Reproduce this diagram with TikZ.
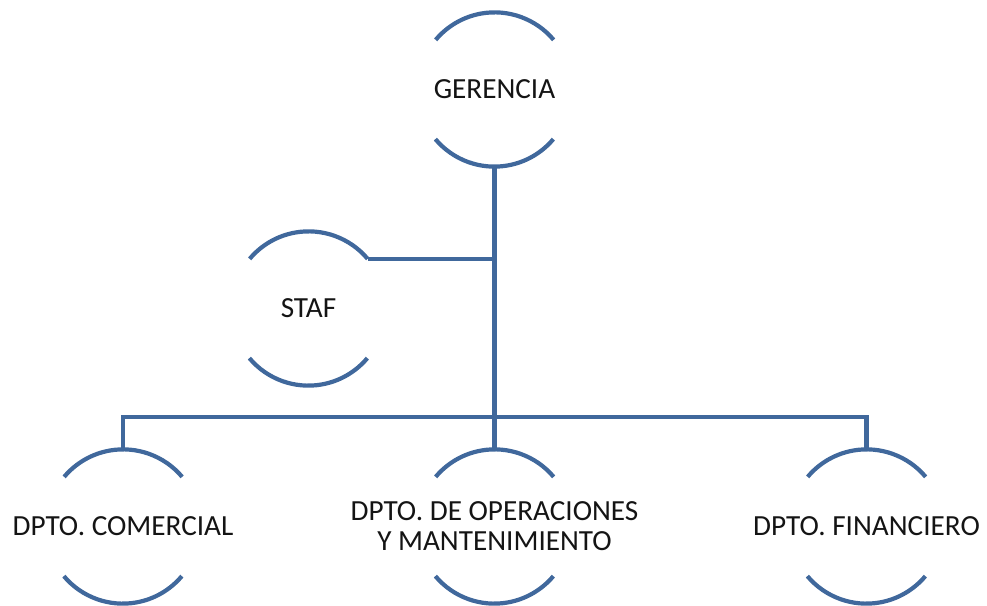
\documentclass[tikz,border=0pt]{standalone}
\usepackage{fontspec}
\setmainfont{Carlito}
\definecolor{orgblue}{RGB}{64,104,156}
\definecolor{orgtext}{RGB}{20,20,20}
\begin{document}
\begin{tikzpicture}[x=1pt,y=1pt,
  orgshape/.style={circle, minimum size=154pt, inner sep=0pt, draw=none},
  txt/.style={text=orgtext, font=\fontsize{29.2}{30}\selectfont, align=center, inner sep=0pt},
  arcline/.style={draw=orgblue, line width=4.2pt},
  conn/.style={draw=orgblue, line width=4.2pt}]
\useasboundingbox (0,0) rectangle (987,605);
\node[orgshape, label={[txt]center:GERENCIA}] (g) at (494.5,515.5) {};
\node[orgshape, label={[txt]center:STAF}] (s) at (308.5,296.5) {};
\node[orgshape, label={[txt]center:DPTO. COMERCIAL}] (c) at (123,78.5) {};
\node[orgshape, label={[txt]center:DPTO. DE OPERACIONES\\Y MANTENIMIENTO}] (o) at (494.5,78.5) {};
\node[orgshape, label={[txt]center:DPTO. FINANCIERO}] (f) at (866.5,78.5) {};
\foreach \n in {g,s,c,o,f}{
  \draw[arcline] (\n.40) arc[start angle=40,end angle=140,radius=77pt];
  \draw[arcline] (\n.220) arc[start angle=220,end angle=320,radius=77pt];
}
\coordinate (bus) at (494.5,188);
\draw[conn] (g.south) -- (o.north);
\draw[conn] (s.40) -- (s.40 -| g.south);
\draw[conn] (c.north) |- (bus) -| (f.north);
\end{tikzpicture}
\end{document}
